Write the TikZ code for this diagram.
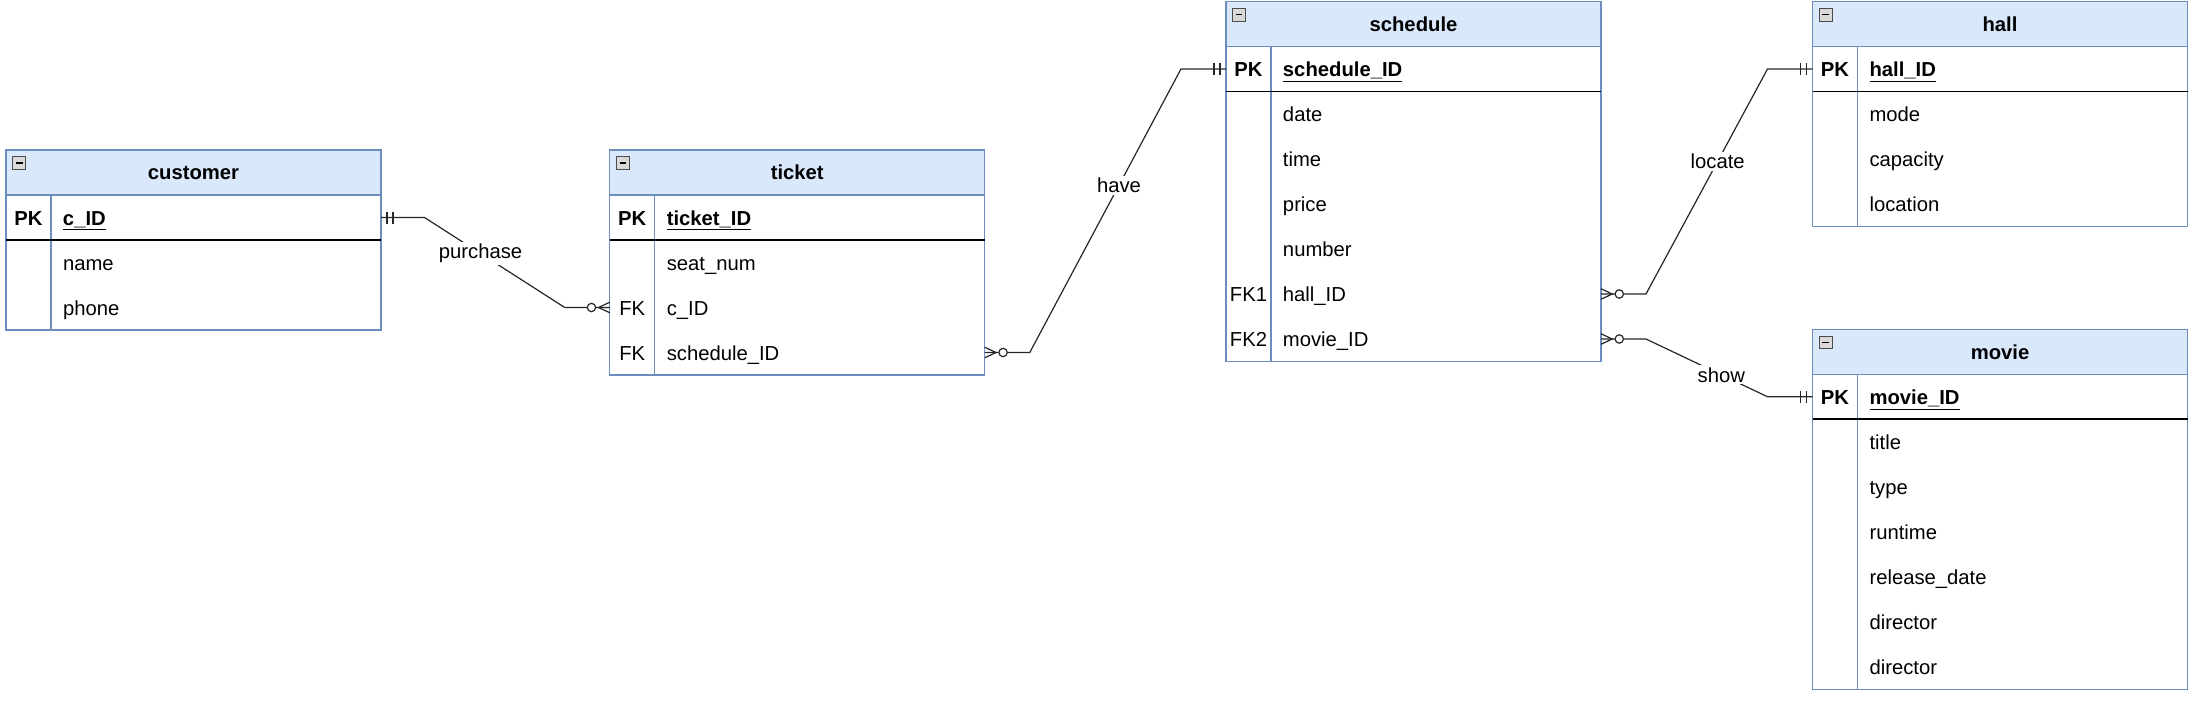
\documentclass[tikz,border=0pt]{standalone}
\usepackage{fontspec}
\setmainfont{Liberation Sans}
\usetikzlibrary{positioning,calc}

\definecolor{erfill}{HTML}{DAE8FC}
\definecolor{erblue}{HTML}{6C8EBF}
\newcommand{\erfont}{\fontsize{13.5}{16}\selectfont}
\newcommand{\keyattr}[2]{\makebox[30pt]{#1}\hspace{8pt}#2}
\newcommand{\pkattr}[1]{\keyattr{\bfseries PK}{\bfseries\underline{#1}}}

\tikzset{
  tblhead/.style={draw=erblue, fill=erfill, line width=0.7pt, minimum width=250pt,
    minimum height=30pt, inner sep=0pt, outer sep=0pt, anchor=north west,
    font=\erfont\bfseries, text height=10pt, text depth=0pt},
  tblrow/.style={minimum height=30pt, text width=250pt, inner sep=0pt, outer sep=0pt,
    align=left, font=\erfont, text height=10pt, text depth=0pt},
  tblline/.style={draw=erblue, line width=0.7pt},
  pkline/.style={draw=black, line width=1.3pt},
  erline/.style={draw=black!85, line width=0.8pt},
  lbl/.style={fill=white, inner sep=1.5pt, font=\erfont},
  pics/collapse/.style={code={
    \draw[gray!60!black, fill=gray!30, line width=0.5pt] (4.5,4.5) rectangle (13,13);
    \draw[black, line width=0.9pt] (6.5,8.75) -- (11,8.75);}},
  pics/onemark/.style={code={
    \draw[erline] (#1*4,-4) -- (#1*4,4) (#1*8,-4) -- (#1*8,4);}},
  pics/manymark/.style={code={
    \draw[erline] (0,-3.5) -- (#1*7.5,0) -- (0,3.5);
    \draw[erline, fill=white] (#1*12.2,0) circle (2.8);}}
}

\begin{document}
\begin{tikzpicture}[x=1pt, y=-1pt]
  \useasboundingbox (0,0) rectangle (1467.3,467.3);

  % customer
  \node[tblhead] (cust) at (4,100) {customer};
  \node[tblrow, below=0pt of cust] (c1) {\pkattr{c\_ID}};
  \node[tblrow, below=0pt of c1] (c2) {\keyattr{}{name}};
  \node[tblrow, below=0pt of c2] (c3) {\keyattr{}{phone}};
  \draw[tblline] (cust.south west) rectangle (c3.south east);
  \draw[tblline] ([xshift=30pt]cust.south west) -- ([xshift=30pt]c3.south west);
  \draw[pkline] (c1.south west) -- (c1.south east);
  \pic at (cust.north west) {collapse};

  % ticket
  \node[tblhead] (tick) at (406.5,100) {ticket};
  \node[tblrow, below=0pt of tick] (t1) {\pkattr{ticket\_ID}};
  \node[tblrow, below=0pt of t1] (t2) {\keyattr{}{seat\_num}};
  \node[tblrow, below=0pt of t2] (t3) {\keyattr{FK}{c\_ID}};
  \node[tblrow, below=0pt of t3] (t4) {\keyattr{FK}{schedule\_ID}};
  \draw[tblline] (tick.south west) rectangle (t4.south east);
  \draw[tblline] ([xshift=30pt]tick.south west) -- ([xshift=30pt]t4.south west);
  \draw[pkline] (t1.south west) -- (t1.south east);
  \pic at (tick.north west) {collapse};

  % schedule
  \node[tblhead] (sched) at (817.3,1) {schedule};
  \node[tblrow, below=0pt of sched] (s1) {\pkattr{schedule\_ID}};
  \node[tblrow, below=0pt of s1] (s2) {\keyattr{}{date}};
  \node[tblrow, below=0pt of s2] (s3) {\keyattr{}{time}};
  \node[tblrow, below=0pt of s3] (s4) {\keyattr{}{price}};
  \node[tblrow, below=0pt of s4] (s5) {\keyattr{}{number}};
  \node[tblrow, below=0pt of s5] (s6) {\keyattr{FK1}{hall\_ID}};
  \node[tblrow, below=0pt of s6] (s7) {\keyattr{FK2}{movie\_ID}};
  \draw[tblline] (sched.south west) rectangle (s7.south east);
  \draw[tblline] ([xshift=30pt]sched.south west) -- ([xshift=30pt]s7.south west);
  \draw[pkline] (s1.south west) -- (s1.south east);
  \pic at (sched.north west) {collapse};

  % hall
  \node[tblhead] (hall) at (1208.3,1) {hall};
  \node[tblrow, below=0pt of hall] (h1) {\pkattr{hall\_ID}};
  \node[tblrow, below=0pt of h1] (h2) {\keyattr{}{mode}};
  \node[tblrow, below=0pt of h2] (h3) {\keyattr{}{capacity}};
  \node[tblrow, below=0pt of h3] (h4) {\keyattr{}{location}};
  \draw[tblline] (hall.south west) rectangle (h4.south east);
  \draw[tblline] ([xshift=30pt]hall.south west) -- ([xshift=30pt]h4.south west);
  \draw[pkline] (h1.south west) -- (h1.south east);
  \pic at (hall.north west) {collapse};

  % movie
  \node[tblhead] (movie) at (1208.3,219.5) {movie};
  \node[tblrow, below=0pt of movie] (m1) {\pkattr{movie\_ID}};
  \node[tblrow, below=0pt of m1] (m2) {\keyattr{}{title}};
  \node[tblrow, below=0pt of m2] (m3) {\keyattr{}{type}};
  \node[tblrow, below=0pt of m3] (m4) {\keyattr{}{runtime}};
  \node[tblrow, below=0pt of m4] (m5) {\keyattr{}{release\_date}};
  \node[tblrow, below=0pt of m5] (m6) {\keyattr{}{director}};
  \node[tblrow, below=0pt of m6] (m7) {\keyattr{}{director}};
  \draw[tblline] (movie.south west) rectangle (m7.south east);
  \draw[tblline] ([xshift=30pt]movie.south west) -- ([xshift=30pt]m7.south west);
  \draw[pkline] (m1.south west) -- (m1.south east);
  \pic at (movie.north west) {collapse};

  % relations
  \draw[erline] (c1.east) -- ++(29,0)
    -- node[lbl, pos=0.4] (lpurchase) {purchase} ($(t3.west)+(-30,0)$) -- (t3.west);
  \draw[erline] (t4.east) -- ++(30,0)
    -- node[lbl, pos=0.59] (lhave) {have} ($(s1.west)+(-30,0)$) -- (s1.west);
  \draw[erline] (s6.east) -- ++(30,0)
    -- node[lbl, pos=0.59] (llocate) {locate} ($(h1.west)+(-30,0)$) -- (h1.west);
  \draw[erline] (s7.east) -- ++(30,0)
    -- node[lbl, pos=0.62] (lshow) {show} ($(m1.west)+(-30,0)$) -- (m1.west);

  \pic at (c1.east) {onemark=1};
  \pic at (t3.west) {manymark=-1};
  \pic at (t4.east) {manymark=1};
  \pic at (s1.west) {onemark=-1};
  \pic at (s6.east) {manymark=1};
  \pic at (h1.west) {onemark=-1};
  \pic at (s7.east) {manymark=1};
  \pic at (m1.west) {onemark=-1};
\end{tikzpicture}
\end{document}
